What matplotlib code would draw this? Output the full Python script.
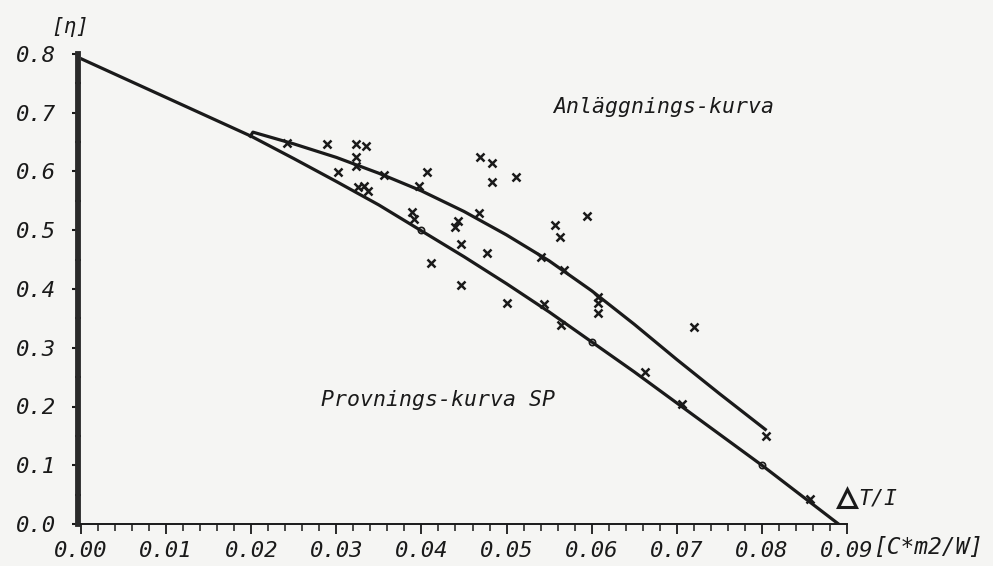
import matplotlib
matplotlib.use("Agg")
import matplotlib.pyplot as plt
from matplotlib.ticker import MultipleLocator, FormatStrFormatter

# Provnings-kurva SP (test curve)
prov_x = [0.0, 0.01, 0.02, 0.025, 0.03, 0.035, 0.04, 0.045, 0.05, 0.055,
          0.06, 0.065, 0.07, 0.075, 0.08, 0.089]
prov_eta = [0.792, 0.726, 0.660, 0.622, 0.583, 0.543, 0.499, 0.455, 0.409, 0.361,
            0.310, 0.259, 0.206, 0.153, 0.100, 0.0]

# Anläggnings-kurva (plant curve)
anl_x = [0.0199, 0.0202, 0.025, 0.03, 0.035, 0.04, 0.045, 0.05, 0.055,
         0.06, 0.065, 0.07, 0.075, 0.0804]
anl_eta = [0.660, 0.667, 0.647, 0.624, 0.597, 0.567, 0.532, 0.492, 0.448,
           0.397, 0.340, 0.280, 0.222, 0.161]

# measured points (x markers)
meas_x = [0.0242, 0.0289, 0.0323, 0.0335, 0.0323, 0.0323, 0.0302, 0.0356, 0.0406,
          0.0397, 0.0325, 0.0332, 0.0337, 0.0469, 0.0483, 0.0483, 0.0511, 0.0468,
          0.0389, 0.0391, 0.0443, 0.0439, 0.0447, 0.0477, 0.0411, 0.0447, 0.0501,
          0.0544, 0.0540, 0.0567, 0.0557, 0.0563, 0.0594, 0.0607, 0.0607, 0.0607,
          0.0564, 0.0720, 0.0663, 0.0706, 0.0805, 0.0856]
meas_eta = [0.649, 0.646, 0.646, 0.643, 0.625, 0.609, 0.600, 0.594, 0.600,
            0.575, 0.573, 0.575, 0.567, 0.624, 0.614, 0.582, 0.591, 0.529,
            0.531, 0.520, 0.516, 0.505, 0.477, 0.462, 0.444, 0.407, 0.376,
            0.374, 0.455, 0.432, 0.509, 0.489, 0.525, 0.387, 0.377, 0.359,
            0.339, 0.336, 0.258, 0.205, 0.149, 0.042]

# test points (small circles)
test_x = [0.04, 0.06, 0.08]
test_eta = [0.50, 0.31, 0.10]

bg = "#f5f5f3"
ink = "#1a1a1a"
font = dict(family="DejaVu Sans Mono", style="oblique")

fig = plt.figure(figsize=(9.93, 5.66), dpi=100, facecolor=bg)
ax = fig.add_axes([81 / 993, 42 / 566, 766 / 993, 470 / 566])
ax.set_facecolor(bg)

ax.plot(prov_x, prov_eta, color=ink, lw=2.3, solid_joinstyle="round")
ax.plot(anl_x, anl_eta, color=ink, lw=2.3, solid_joinstyle="round")
ax.plot(meas_x, meas_eta, linestyle="none", marker="x", ms=6, mew=1.8, color=ink)
ax.plot(test_x, test_eta, linestyle="none", marker="o", ms=4.5, mfc="none",
        mew=1.2, color=ink)

ax.set_xlim(0, 0.09)
ax.set_ylim(0, 0.8)

for side in ["top", "right"]:
    ax.spines[side].set_visible(False)
ax.spines["left"].set_linewidth(4.2)
ax.spines["left"].set_color("#2a2a2a")
ax.spines["left"].set_position(("outward", 2))
ax.spines["bottom"].set_linewidth(1.4)
ax.spines["bottom"].set_color(ink)

ax.xaxis.set_major_locator(MultipleLocator(0.01))
ax.xaxis.set_minor_locator(MultipleLocator(0.002))
ax.yaxis.set_major_locator(MultipleLocator(0.1))
ax.yaxis.set_minor_locator(MultipleLocator(0.05))
ax.xaxis.set_major_formatter(FormatStrFormatter("%.2f"))
ax.yaxis.set_major_formatter(FormatStrFormatter("%.1f"))

ax.tick_params(axis="x", which="major", direction="out", length=7, width=1.3,
               color=ink, pad=5, labelsize=16, labelcolor=ink)
ax.tick_params(axis="x", which="minor", direction="out", length=5, width=1.1,
               color=ink)
ax.tick_params(axis="y", which="major", direction="out", length=4, width=1.5,
               color=ink, pad=12, labelsize=16, labelcolor=ink)
ax.tick_params(axis="y", which="minor", direction="inout", length=4, width=1.5,
               color=ink)
for lab in ax.get_xticklabels() + ax.get_yticklabels():
    lab.set_fontfamily("DejaVu Sans Mono")
    lab.set_fontstyle("oblique")

ax.annotate("[C*m2/W]", xy=(0.09, 0), xycoords="data", xytext=(18.5, -17),
            textcoords="offset points", ha="left", va="center", fontsize=16.5,
            color=ink, annotation_clip=False, **font)
ax.text(-0.0013, 0.846, "[η]", ha="center", va="center", fontsize=15,
        color=ink, clip_on=False, **font)

ax.text(0.0685, 0.710, "Anläggnings-kurva", ha="center", va="center",
        fontsize=15.5, color=ink, **font)
ax.text(0.0419, 0.211, "Provnings-kurva SP", ha="center", va="center",
        fontsize=15.5, color=ink, **font)

ax.plot([0.0900], [0.044], marker="^", ms=13, mfc="none", mew=2.2, color=ink,
        clip_on=False)
ax.text(0.0913, 0.044, "T/I", ha="left", va="center", fontsize=15.5,
        color=ink, clip_on=False, **font)

fig.savefig("out.png", dpi=100, facecolor=bg)
